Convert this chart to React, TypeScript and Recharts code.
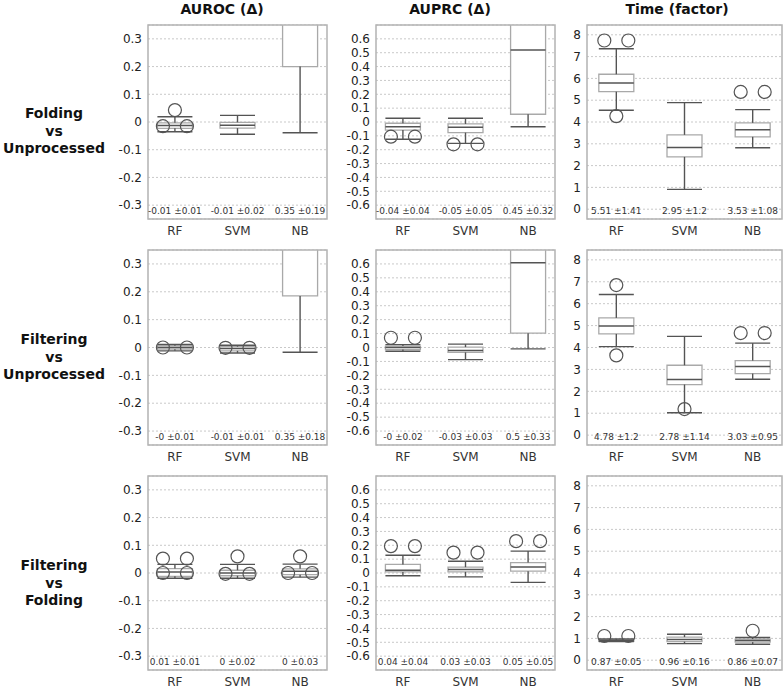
import React from 'react';
import {
  ComposedChart,
  XAxis,
  YAxis,
  CartesianGrid,
  ReferenceArea,
  ReferenceLine,
  Scatter,
} from 'recharts';

// ---------- labels ----------
const CATEGORIES = ['RF', 'SVM', 'NB'];
const COLUMN_TITLES = ['AUROC (Δ)', 'AUPRC (Δ)', 'Time (factor)'];
const ROW_TITLES = [
  ['Folding', 'vs', 'Unprocessed'],
  ['Filtering', 'vs', 'Unprocessed'],
  ['Filtering', 'vs', 'Folding'],
];

// ---------- axis ticks ----------
const AUROC_TICKS = [-0.3, -0.2, -0.1, 0, 0.1, 0.2, 0.3];
const AUPRC_TICKS = [-0.6, -0.5, -0.4, -0.3, -0.2, -0.1, 0, 0.1, 0.2, 0.3, 0.4, 0.5, 0.6];
const TIME_TICKS = [0, 1, 2, 3, 4, 5, 6, 7, 8];

// ---------- box values: [low whisker, Q1, median, Q3, high whisker] per RF, SVM, NB ----------
const aurocFoldingVsUnprocessed = [
  [-0.035, -0.023, -0.013, -0.003, 0.019],
  [-0.044, -0.022, -0.012, -0.001, 0.024],
  [-0.039, 0.2, 0.4, 0.55, 0.75],
];
const auprcFoldingVsUnprocessed = [
  [-0.125, -0.058, -0.034, -0.009, 0.027],
  [-0.154, -0.077, -0.038, -0.014, 0.027],
  [-0.034, 0.056, 0.52, 0.85, 1.0],
];
const timeFoldingVsUnprocessed = [
  [4.54, 5.39, 5.79, 6.19, 7.36],
  [0.91, 2.4, 2.83, 3.41, 4.89],
  [2.82, 3.32, 3.64, 3.96, 4.57],
];
const aurocFilteringVsUnprocessed = [
  [-0.012, -0.006, 0.0, 0.006, 0.011],
  [-0.02, -0.012, -0.004, 0.003, 0.008],
  [-0.017, 0.185, 0.4, 0.55, 0.75],
];
const auprcFilteringVsUnprocessed = [
  [-0.027, -0.015, 0.0, 0.01, 0.021],
  [-0.087, -0.035, -0.021, 0.003, 0.024],
  [-0.01, 0.103, 0.609, 0.9, 1.1],
];
const timeFilteringVsUnprocessed = [
  [4.04, 4.62, 4.98, 5.35, 6.42],
  [1.02, 2.31, 2.54, 3.19, 4.51],
  [2.55, 2.81, 3.13, 3.4, 4.2],
];
const aurocFilteringVsFolding = [
  [-0.019, -0.012, 0.004, 0.016, 0.031],
  [-0.019, -0.01, 0.0, 0.01, 0.031],
  [-0.015, -0.006, 0.006, 0.015, 0.032],
];
const auprcFilteringVsFolding = [
  [-0.02, 0.008, 0.02, 0.062, 0.128],
  [-0.028, 0.008, 0.025, 0.042, 0.085],
  [-0.068, 0.013, 0.044, 0.075, 0.158],
];
const timeFilteringVsFolding = [
  [0.85, 0.87, 0.9, 0.93, 0.97],
  [0.76, 0.85, 0.95, 1.06, 1.19],
  [0.73, 0.83, 0.9, 0.97, 1.04],
];

// ---------- outliers: [category index, value, side (-1 left, 0 centre, 1 right)] ----------
const aurocFoldingVsUnprocessedOutliers = [[0, 0.043, 0], [0, -0.015, -1], [0, -0.015, 1]];
const auprcFoldingVsUnprocessedOutliers = [[0, -0.106, -1], [0, -0.106, 1], [1, -0.161, -1], [1, -0.161, 1]];
const timeFoldingVsUnprocessedOutliers = [[0, 7.74, -1], [0, 7.74, 1], [0, 4.27, 0], [2, 5.38, -1], [2, 5.38, 1]];
const aurocFilteringVsUnprocessedOutliers = [[0, 0, -1], [0, 0, 1], [1, -0.001, -1], [1, -0.001, 1]];
const auprcFilteringVsUnprocessedOutliers = [[0, 0.07, -1], [0, 0.07, 1]];
const timeFilteringVsUnprocessedOutliers = [[0, 6.85, 0], [0, 3.64, 0], [1, 1.19, 0], [2, 4.66, -1], [2, 4.66, 1]];
const aurocFilteringVsFoldingOutliers = [
  [0, 0.052, -1], [0, 0.052, 1], [0, 0, -1], [0, 0, 1],
  [1, 0.06, 0], [1, -0.003, -1], [1, -0.003, 1],
  [2, 0.06, 0], [2, 0, -1], [2, 0, 1],
];
const auprcFilteringVsFoldingOutliers = [[0, 0.194, -1], [0, 0.194, 1], [1, 0.147, -1], [1, 0.147, 1], [2, 0.23, -1], [2, 0.23, 1]];
const timeFilteringVsFoldingOutliers = [[0, 1.11, -1], [0, 1.11, 1], [2, 1.35, 0]];

// ---------- mean ± sd labels ----------
const aurocFoldingVsUnprocessedStats = ['-0.01 ±0.01', '-0.01 ±0.02', '0.35 ±0.19'];
const auprcFoldingVsUnprocessedStats = ['-0.04 ±0.04', '-0.05 ±0.05', '0.45 ±0.32'];
const timeFoldingVsUnprocessedStats = ['5.51 ±1.41', '2.95 ±1.2', '3.53 ±1.08'];
const aurocFilteringVsUnprocessedStats = ['-0 ±0.01', '-0.01 ±0.01', '0.35 ±0.18'];
const auprcFilteringVsUnprocessedStats = ['-0 ±0.02', '-0.03 ±0.03', '0.5 ±0.33'];
const timeFilteringVsUnprocessedStats = ['4.78 ±1.2', '2.78 ±1.14', '3.03 ±0.95'];
const aurocFilteringVsFoldingStats = ['0.01 ±0.01', '0 ±0.02', '0 ±0.03'];
const auprcFilteringVsFoldingStats = ['0.04 ±0.04', '0.03 ±0.03', '0.05 ±0.05'];
const timeFilteringVsFoldingStats = ['0.87 ±0.05', '0.96 ±0.16', '0.86 ±0.07'];

// ---------- layout / style ----------
const X_DOMAIN: [number, number] = [-0.43, 2.43];
const COLS = [
  { left: 148, width: 179, domain: [-0.35, 0.35] as [number, number], ticks: AUROC_TICKS, titleX: 222 },
  { left: 376, width: 179, domain: [-0.7, 0.7] as [number, number], ticks: AUPRC_TICKS, titleX: 450 },
  { left: 587, width: 195, domain: [-0.45, 8.45] as [number, number], ticks: TIME_TICKS, titleX: 677 },
];
const ROWS = [
  { top: 25, height: 194, titleTop: 105 },
  { top: 250, height: 195, titleTop: 331 },
  { top: 476, height: 194, titleTop: 557 },
];
const PANEL_BOXES = [
  [aurocFoldingVsUnprocessed, auprcFoldingVsUnprocessed, timeFoldingVsUnprocessed],
  [aurocFilteringVsUnprocessed, auprcFilteringVsUnprocessed, timeFilteringVsUnprocessed],
  [aurocFilteringVsFolding, auprcFilteringVsFolding, timeFilteringVsFolding],
];
const PANEL_OUTLIERS = [
  [aurocFoldingVsUnprocessedOutliers, auprcFoldingVsUnprocessedOutliers, timeFoldingVsUnprocessedOutliers],
  [aurocFilteringVsUnprocessedOutliers, auprcFilteringVsUnprocessedOutliers, timeFilteringVsUnprocessedOutliers],
  [aurocFilteringVsFoldingOutliers, auprcFilteringVsFoldingOutliers, timeFilteringVsFoldingOutliers],
];
const PANEL_STATS = [
  [aurocFoldingVsUnprocessedStats, auprcFoldingVsUnprocessedStats, timeFoldingVsUnprocessedStats],
  [aurocFilteringVsUnprocessedStats, auprcFilteringVsUnprocessedStats, timeFilteringVsUnprocessedStats],
  [aurocFilteringVsFoldingStats, auprcFilteringVsFoldingStats, timeFilteringVsFoldingStats],
];

const FONT = "'DejaVu Sans', 'Noto Sans', sans-serif";
const BOX_STROKE = '#a9a9a9';
const LINE_STROKE = '#545454';
const BORDER = '#b3b3b3';
const GRID = '#c9c9c9';

const fmtTick = (v: number) => (v === 0 ? '0' : Number.isInteger(v) ? String(v) : v.toFixed(1));

function Panel({ col, row, boxes, outliers, stats }: any) {
  const YW = 50;
  const MT = 5;
  const MR = 3;
  const XH = 24;
  const plotW = col.width;
  const plotH = row.height;
  const unit = (X_DOMAIN[1] - X_DOMAIN[0]) / plotW;
  const hw = 17.5 * unit;
  const jit = 12 * unit;
  const pts = outliers.map(([c, v, s]: number[]) => ({ x: c + s * jit, y: v }));

  return (
    <div style={{ position: 'absolute', left: col.left - YW, top: row.top - MT }}>
      <ComposedChart
        width={YW + plotW + MR}
        height={MT + plotH + XH}
        margin={{ top: MT, right: MR, bottom: 0, left: 0 }}
        style={{ overflow: 'visible' }}
      >
        <CartesianGrid vertical={false} stroke={GRID} strokeDasharray="2 2" strokeWidth={1} />
        <XAxis
          xAxisId={0}
          dataKey="x"
          type="number"
          domain={X_DOMAIN}
          allowDataOverflow
          ticks={[0, 1, 2]}
          interval={0}
          tickFormatter={(v: number) => CATEGORIES[v]}
          axisLine={false}
          tickLine={false}
          tickSize={5}
          tickMargin={2}
          height={XH}
          tick={{ fontSize: 12, fill: '#333' }}
        />
        <XAxis
          xAxisId="stats"
          dataKey="x"
          type="number"
          domain={X_DOMAIN}
          allowDataOverflow
          ticks={[0, 1, 2]}
          interval={0}
          mirror
          tickFormatter={(v: number) => stats[v]}
          axisLine={false}
          tickLine={false}
          tickSize={3}
          tickMargin={2}
          height={XH}
          tick={{ fontSize: 9, fill: '#333' }}
        />
        <YAxis
          type="number"
          domain={col.domain}
          allowDataOverflow
          ticks={col.ticks}
          interval={0}
          tickFormatter={fmtTick}
          width={YW}
          axisLine={false}
          tickLine={false}
          tickSize={4}
          tickMargin={2}
          tick={{ fontSize: 12, fill: '#222' }}
        />
        {boxes.map((b: number[], i: number) => (
          <ReferenceArea
            key={`box-${i}`}
            x1={i - hw}
            x2={i + hw}
            y1={b[1]}
            y2={b[3]}
            fill="#ffffff"
            fillOpacity={1}
            stroke={BOX_STROKE}
            strokeWidth={1.3}
            ifOverflow="hidden"
          />
        ))}
        {boxes.map((b: number[], i: number) => (
          <ReferenceLine
            key={`wu-${i}`}
            segment={[{ x: i, y: b[3] }, { x: i, y: b[4] }]}
            stroke={LINE_STROKE}
            strokeWidth={1.4}
            ifOverflow="hidden"
          />
        ))}
        {boxes.map((b: number[], i: number) => (
          <ReferenceLine
            key={`wl-${i}`}
            segment={[{ x: i, y: b[0] }, { x: i, y: b[1] }]}
            stroke={LINE_STROKE}
            strokeWidth={1.4}
            ifOverflow="hidden"
          />
        ))}
        {boxes.map((b: number[], i: number) => (
          <ReferenceLine
            key={`cu-${i}`}
            segment={[{ x: i - hw, y: b[4] }, { x: i + hw, y: b[4] }]}
            stroke={LINE_STROKE}
            strokeWidth={1.4}
            ifOverflow="hidden"
          />
        ))}
        {boxes.map((b: number[], i: number) => (
          <ReferenceLine
            key={`cl-${i}`}
            segment={[{ x: i - hw, y: b[0] }, { x: i + hw, y: b[0] }]}
            stroke={LINE_STROKE}
            strokeWidth={1.4}
            ifOverflow="hidden"
          />
        ))}
        {boxes.map((b: number[], i: number) => (
          <ReferenceLine
            key={`md-${i}`}
            segment={[{ x: i - hw, y: b[2] }, { x: i + hw, y: b[2] }]}
            stroke={LINE_STROKE}
            strokeWidth={1.5}
            ifOverflow="hidden"
          />
        ))}
        <ReferenceArea
          x1={X_DOMAIN[0]}
          x2={X_DOMAIN[1]}
          y1={col.domain[0]}
          y2={col.domain[1]}
          fill="none"
          stroke={BORDER}
          strokeWidth={1.5}
          ifOverflow="visible"
        />
        <Scatter
          data={pts}
          dataKey="y"
          isAnimationActive={false}
          shape={(p: any) => (
            <circle cx={p.cx} cy={p.cy} r={6.5} fill="none" stroke={LINE_STROKE} strokeWidth={1.2} />
          )}
        />
      </ComposedChart>
    </div>
  );
}

export default function App() {
  return (
    <div
      style={{
        position: 'absolute',
        left: 0,
        top: 0,
        width: 784,
        height: 688,
        background: '#fff',
        fontFamily: FONT,
        color: '#111',
      }}
    >
      {COLS.map((c, j) => (
        <div
          key={`ct-${j}`}
          style={{
            position: 'absolute',
            left: c.titleX - 100,
            top: 0,
            width: 200,
            textAlign: 'center',
            fontWeight: 'bold',
            fontSize: 14,
            lineHeight: '18px',
          }}
        >
          {COLUMN_TITLES[j]}
        </div>
      ))}
      {ROWS.map((r, i) => (
        <div
          key={`rt-${i}`}
          style={{
            position: 'absolute',
            left: 0,
            top: r.titleTop,
            width: 108,
            textAlign: 'center',
            fontWeight: 'bold',
            fontSize: 14,
            lineHeight: '17.5px',
          }}
        >
          {ROW_TITLES[i].map((t, k) => (
            <div key={k}>{t}</div>
          ))}
        </div>
      ))}
      {ROWS.map((r, i) =>
        COLS.map((c, j) => (
          <Panel
            key={`p-${i}-${j}`}
            col={c}
            row={r}
            boxes={PANEL_BOXES[i][j]}
            outliers={PANEL_OUTLIERS[i][j]}
            stats={PANEL_STATS[i][j]}
          />
        ))
      )}
    </div>
  );
}
